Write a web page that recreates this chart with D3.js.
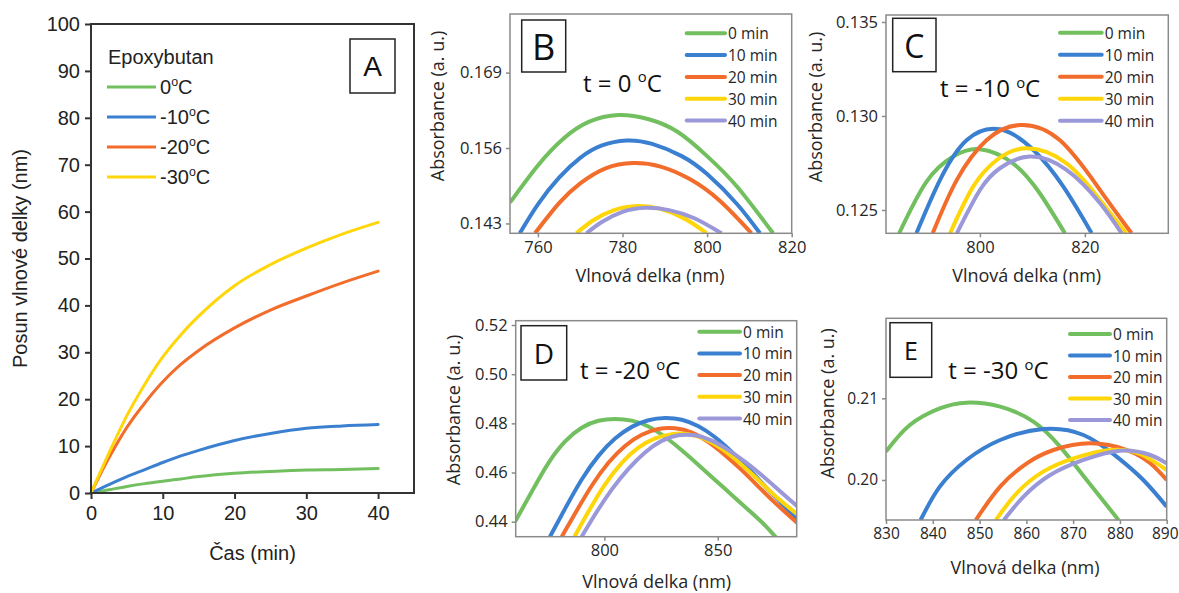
<!DOCTYPE html>
<html>
<head>
<meta charset="utf-8">
<script src="https://cdn.jsdelivr.net/npm/d3@7"></script>
<style>
  body { margin: 0; background: #fff; }
  svg { display: block; }
</style>
</head>
<body>
<svg id="chart" width="1179" height="593"></svg>
<script>
// ---- panel A: shift of the wavelength vs time ----
const timeA = [0, 2.5, 5, 7.5, 10, 12.5, 15, 20, 25, 30, 35, 40];
const shift0 = [0, 0.7, 1.4, 2.0, 2.5, 3.0, 3.5, 4.2, 4.6, 4.9, 5.0, 5.2];
const shift10 = [0, 1.8, 3.5, 5.0, 6.5, 7.9, 9.1, 11.2, 12.7, 13.8, 14.3, 14.6];
const shift20 = [0, 7.5, 14, 19.2, 23.7, 27.4, 30.4, 35.2, 39, 42, 44.8, 47.3];
const shift30 = [0, 8.5, 16.5, 23.2, 29, 33.7, 37.7, 44.2, 48.7, 52.2, 55.2, 57.7];
const tempLabels = ["0", "-10", "-20", "-30"];
const timeTicks = [0, 10, 20, 30, 40];
const shiftTicks = [0, 10, 20, 30, 40, 50, 60, 70, 80, 90, 100];

// ---- spectra, [wavelength nm, absorbance] ----
const minuteLabels = ["0 min", "10 min", "20 min", "30 min", "40 min"];

const b0 = [[753.4,0.1466],[760,0.1530],[766,0.1576],[772,0.1605],[779,0.1617],[786,0.1610],[793,0.1588],[800,0.1546],[807,0.1494],[815.6,0.1413]];
const b10 = [[755.7,0.1413],[760,0.1463],[765,0.1509],[770,0.1543],[775,0.1564],[781,0.1573],[787,0.1567],[794,0.1546],[800,0.1515],[807,0.1464],[812.5,0.1413]];
const b20 = [[759.3,0.1413],[765,0.1465],[770,0.1499],[776,0.1525],[782.5,0.1534],[789,0.1528],[796,0.1506],[803,0.1469],[810.5,0.1413]];
const b30 = [[769.1,0.1413],[773,0.1435],[778,0.1453],[783.5,0.1460],[789,0.1455],[795,0.1437],[799.9,0.1413]];
const b40 = [[771.5,0.1413],[775,0.1432],[780,0.1450],[785.5,0.1457],[791,0.1453],[797,0.1439],[803.4,0.1413]];

const c0 = [[784.6,0.12376],[789.8,0.1265],[794.9,0.12784],[800,0.12823],[806.3,0.12748],[811.4,0.12589],[816.2,0.12376]];
const c10 = [[787.9,0.12376],[792.4,0.1266],[797.5,0.12872],[803.8,0.12929],[810.2,0.12819],[815.9,0.12624],[821.3,0.12376]];
const c20 = [[791,0.12376],[795.6,0.1266],[801.3,0.12872],[807.6,0.12952],[815.2,0.12872],[822.9,0.12606],[828.9,0.12376]];
const c30 = [[794.3,0.12376],[798.7,0.12624],[803.2,0.12766],[808.9,0.12828],[816.5,0.12748],[822.9,0.12553],[827.9,0.12376]];
const c40 = [[795.6,0.12376],[800,0.12606],[803.8,0.12722],[809.5,0.12784],[816.5,0.12713],[822.9,0.12536],[827,0.12376]];

const d0 = [[760.6,0.4400],[768,0.4522],[775.3,0.4644],[782.7,0.4732],[790,0.4787],[797.4,0.4814],[804.7,0.4820],[812.1,0.4814],[819.4,0.4791],[826.8,0.4746],[834.1,0.4692],[841.5,0.4631],[848.8,0.4570],[856.2,0.4509],[863.5,0.4448],[870.9,0.4387],[876,0.4332]];
const d10 = [[776,0.4339],[782.7,0.4454],[790,0.4576],[797.4,0.4672],[804.7,0.4742],[812.1,0.4789],[819.4,0.4816],[826.8,0.4824],[834.1,0.4818],[841.5,0.4791],[848.8,0.4746],[856.2,0.4685],[863.5,0.4617],[870.9,0.4543],[878.2,0.4475],[885.3,0.4407]];
const d20 = [[781.2,0.4339],[787.1,0.4434],[794.4,0.4550],[801.8,0.4644],[809.1,0.4712],[816.5,0.4757],[823.8,0.4780],[831.2,0.4783],[838.6,0.4766],[845.9,0.4726],[853.2,0.4672],[860.6,0.4611],[867.9,0.4543],[875.3,0.4475],[885.3,0.4393]];
const d30 = [[786.8,0.4339],[792.9,0.4441],[800.3,0.4556],[807.7,0.4644],[815,0.4705],[822.4,0.4742],[829.7,0.4759],[837.1,0.4759],[844.4,0.4739],[851.8,0.4698],[859.1,0.4644],[866.5,0.4583],[873.8,0.4515],[885.3,0.4428]];
const d40 = [[790,0.4339],[796.1,0.4434],[803.4,0.4536],[810.6,0.4617],[817.9,0.4685],[825.3,0.4733],[832.6,0.4755],[840,0.4755],[847.4,0.4733],[854.7,0.4692],[862.1,0.4644],[869.4,0.4590],[876.8,0.4529],[885.3,0.4461]];

const e0 = [[830,0.20347],[835.1,0.20673],[841.5,0.20877],[847.2,0.20947],[854.4,0.20898],[861.5,0.20714],[867.2,0.20408],[872.9,0.2000],[879.7,0.1951]];
const e10 = [[837.4,0.1951],[841.5,0.19918],[847.2,0.20245],[854.4,0.2049],[863.6,0.20624],[872.2,0.20551],[879.3,0.20286],[885,0.2000],[890,0.19674]];
const e20 = [[849.2,0.1951],[854.4,0.19918],[860.1,0.20204],[865.8,0.20367],[873.6,0.20449],[881.5,0.20367],[886.5,0.20204],[890,0.2000]];
const e30 = [[853.5,0.1951],[857.9,0.19837],[863.6,0.20102],[870.1,0.20265],[877.9,0.20367],[884.3,0.20318],[890,0.20122]];
const e40 = [[855.2,0.1951],[859.4,0.19796],[865.1,0.20061],[872.2,0.20245],[880,0.20359],[886.5,0.20306],[890,0.20204]];

const colors = ["#72bf5f", "#3b80d0", "#f26d2b", "#ffd60a", "#9a98d8"];
const svg = d3.select("#chart");
const sans = "'Open Sans', 'Noto Sans', sans-serif";
const arial = "'Liberation Sans', Arial, sans-serif";

// superscript "o" used for the degree sign
function degree(sel, pre, size) {
  sel.append("tspan").text(pre);
  sel.append("tspan").attr("font-size", size * 0.62).attr("dy", -size * 0.38).text("o");
  sel.append("tspan").attr("dy", size * 0.38).text("C");
}

// ================= panel A =================
(function () {
  const L = 91, R = 414, T = 24, B = 493;
  const x = d3.scaleLinear().domain([0, 45]).range([L, R]);
  const y = d3.scaleLinear().domain([0, 100]).range([B, T]);
  const g = svg.append("g");
  const series = [shift0, shift10, shift20, shift30];

  const line = d3.line().x((d, i) => x(timeA[i])).y(d => y(d)).curve(d3.curveMonotoneX);
  series.forEach((s, i) => {
    g.append("path").attr("d", line(s)).attr("fill", "none")
      .attr("stroke", colors[i]).attr("stroke-width", 3).attr("stroke-linecap", "round");
  });

  g.append("rect").attr("x", L).attr("y", T).attr("width", R - L).attr("height", B - T)
    .attr("fill", "none").attr("stroke", "#333").attr("stroke-width", 2);

  const ax = g.append("g").attr("transform", `translate(0,${B})`)
    .call(d3.axisBottom(x).tickValues(timeTicks).tickSize(6).tickPadding(7).tickSizeOuter(0));
  const ay = g.append("g").attr("transform", `translate(${L},0)`)
    .call(d3.axisLeft(y).tickValues(shiftTicks).tickSize(6).tickPadding(5).tickSizeOuter(0));
  [ax, ay].forEach(a => {
    a.select(".domain").remove();
    a.selectAll("line").attr("stroke", "#333").attr("stroke-width", 2);
    a.selectAll("text").attr("font-family", arial).attr("font-size", 20).attr("fill", "#222");
  });

  g.append("text").attr("transform", `translate(20,${(T + B) / 2}) rotate(-90)`)
    .attr("text-anchor", "middle").attr("dominant-baseline", "central")
    .attr("font-family", arial).attr("font-size", 20).attr("fill", "#222")
    .text("Posun vlnové delky (nm)");
  g.append("text").attr("x", (L + R) / 2).attr("y", 553)
    .attr("text-anchor", "middle").attr("dominant-baseline", "central")
    .attr("font-family", arial).attr("font-size", 20).attr("fill", "#222")
    .text("Čas (min)");

  // legend
  g.append("text").attr("x", 108).attr("y", 57).attr("dominant-baseline", "central")
    .attr("font-family", arial).attr("font-size", 20).attr("fill", "#222").text("Epoxybutan");
  tempLabels.forEach((t, i) => {
    const yy = 87 + i * 30;
    g.append("line").attr("x1", 107).attr("x2", 156).attr("y1", yy).attr("y2", yy)
      .attr("stroke", colors[i]).attr("stroke-width", 3);
    const tx = g.append("text").attr("x", 160).attr("y", yy + 7)
      .attr("font-family", arial).attr("font-size", 20).attr("fill", "#222");
    degree(tx, t, 20);
  });

  // panel letter
  g.append("rect").attr("x", 350).attr("y", 39).attr("width", 45).attr("height", 54)
    .attr("fill", "#fff").attr("stroke", "#222").attr("stroke-width", 1.5);
  g.append("text").attr("x", 372.5).attr("y", 66).attr("text-anchor", "middle")
    .attr("dominant-baseline", "central").attr("font-family", arial).attr("font-size", 28)
    .attr("fill", "#111").text("A");
})();

// ================= spectra panels =================
// D has dense, slightly noisy points -> b-spline; the others go through their points
const panels = [
  { id: "B", L: 510, R: 791.7, T: 14, Bt: 233.3, xd: [753.4, 820], yd: [0.1413, 0.1791],
    xt: [760, 780, 800, 820], yt: [0.143, 0.156, 0.169], fmt: ".3f", data: [b0, b10, b20, b30, b40],
    box: [521.7, 20, 44, 52, 36], temp: "0", tx: 583, ty: 83, tick: 16.5, curve: d3.curveNatural,
    leg: [686.7, 725, 33.3, 21.8], ylab: [437, 106], xlab: [650, 275] },
  { id: "C", L: 886, R: 1168.3, T: 15, Bt: 233.3, xd: [782.1, 835.9], yd: [0.12376, 0.13537],
    xt: [800, 820], yt: [0.125, 0.130, 0.135], fmt: ".3f", data: [c0, c10, c20, c30, c40],
    box: [892.7, 18.3, 43.3, 53.4, 32], temp: "-10", tx: 940, ty: 88.3, tick: 16.5, curve: d3.curveNatural,
    leg: [1060, 1101.7, 32.7, 22], ylab: [815, 107], xlab: [1026.7, 275] },
  { id: "D", L: 515.7, R: 796.7, T: 320.7, Bt: 536.7, xd: [760.9, 884.8], yd: [0.4339, 0.52175],
    xt: [800, 850], yt: [0.44, 0.46, 0.48, 0.50, 0.52], fmt: ".2f", data: [d0, d10, d20, d30, d40],
    box: [521, 325.7, 45.7, 54.3, 28], temp: "-20", tx: 580, ty: 370.7, tick: 16.5, curve: d3.curveBasis,
    leg: [699.3, 740, 331.7, 21.7], ylab: [453.3, 410], xlab: [656.7, 581] },
  { id: "E", L: 886, R: 1166.7, T: 318.3, Bt: 520, xd: [830, 890], yd: [0.1951, 0.2198],
    xt: [830, 840, 850, 860, 870, 880, 890], yt: [0.20, 0.21], fmt: ".2f", data: [e0, e10, e20, e30, e40],
    box: [890, 322.7, 41.7, 54.6, 25], temp: "-30", tx: 948.3, ty: 370.7, tick: 15.5, curve: d3.curveNatural,
    leg: [1070, 1110, 334, 21.5], ylab: [826.7, 403.3], xlab: [1025, 566.7] }
];

panels.forEach(p => {
  const x = d3.scaleLinear().domain(p.xd).range([p.L, p.R]);
  const y = d3.scaleLinear().domain(p.yd).range([p.Bt, p.T]);
  const g = svg.append("g");

  g.append("clipPath").attr("id", "clip" + p.id).append("rect")
    .attr("x", p.L).attr("y", p.T).attr("width", p.R - p.L).attr("height", p.Bt - p.T);

  const line = d3.line().x(d => x(d[0])).y(d => y(d[1])).curve(p.curve);
  const plot = g.append("g").attr("clip-path", `url(#clip${p.id})`);
  p.data.forEach((s, i) => {
    plot.append("path").attr("d", line(s)).attr("fill", "none")
      .attr("stroke", colors[i]).attr("stroke-width", 4);
  });

  g.append("rect").attr("x", p.L).attr("y", p.T).attr("width", p.R - p.L).attr("height", p.Bt - p.T)
    .attr("fill", "none").attr("stroke", "#8a8a8a").attr("stroke-width", 1.5);

  const ax = g.append("g").attr("transform", `translate(0,${p.Bt})`)
    .call(d3.axisBottom(x).tickValues(p.xt).tickSize(4).tickPadding(4).tickSizeOuter(0));
  const ay = g.append("g").attr("transform", `translate(${p.L},0)`)
    .call(d3.axisLeft(y).tickValues(p.yt).tickFormat(d3.format(p.fmt)).tickSize(4).tickPadding(4).tickSizeOuter(0));
  [ax, ay].forEach(a => {
    a.select(".domain").remove();
    a.selectAll("line").attr("stroke", "#8a8a8a").attr("stroke-width", 1.5);
    a.selectAll("text").attr("font-family", sans).attr("font-size", p.tick).attr("fill", "#262626");
  });
  // the last label of E sits on the page edge
  if (p.id === "E") ax.selectAll(".tick").filter(d => d === 890).select("text").attr("dx", -2);

  g.append("text").attr("transform", `translate(${p.ylab[0]},${p.ylab[1]}) rotate(-90)`)
    .attr("text-anchor", "middle").attr("dominant-baseline", "central")
    .attr("font-family", sans).attr("font-size", 18).attr("fill", "#262626")
    .text("Absorbance (a. u.)");
  g.append("text").attr("x", p.xlab[0]).attr("y", p.xlab[1])
    .attr("text-anchor", "middle").attr("dominant-baseline", "central")
    .attr("font-family", sans).attr("font-size", 18).attr("fill", "#262626")
    .text("Vlnová delka (nm)");

  // legend
  minuteLabels.forEach((m, i) => {
    const yy = p.leg[2] + i * p.leg[3];
    g.append("line").attr("x1", p.leg[0]).attr("x2", p.leg[1]).attr("y1", yy).attr("y2", yy)
      .attr("stroke", colors[i]).attr("stroke-width", 4).attr("stroke-linecap", "round");
    g.append("text").attr("x", p.leg[1] + 3).attr("y", yy).attr("dominant-baseline", "central")
      .attr("font-family", sans).attr("font-size", 15.5).attr("fill", "#262626").text(m);
  });

  // panel letter box
  const [bx, by, bw, bh, bs] = p.box;
  g.append("rect").attr("x", bx).attr("y", by).attr("width", bw).attr("height", bh)
    .attr("fill", "#fff").attr("stroke", "#222").attr("stroke-width", 1.5);
  g.append("text").attr("x", bx + bw / 2).attr("y", by + bh / 2).attr("text-anchor", "middle")
    .attr("dominant-baseline", "central").attr("font-family", sans).attr("font-size", bs)
    .attr("fill", "#111").text(p.id);

  const tt = g.append("text").attr("x", p.tx).attr("y", p.ty + 8.5)
    .attr("font-family", sans).attr("font-size", 24).attr("fill", "#111");
  degree(tt, "t = " + p.temp + " ", 24);
});
</script>
</body>
</html>
